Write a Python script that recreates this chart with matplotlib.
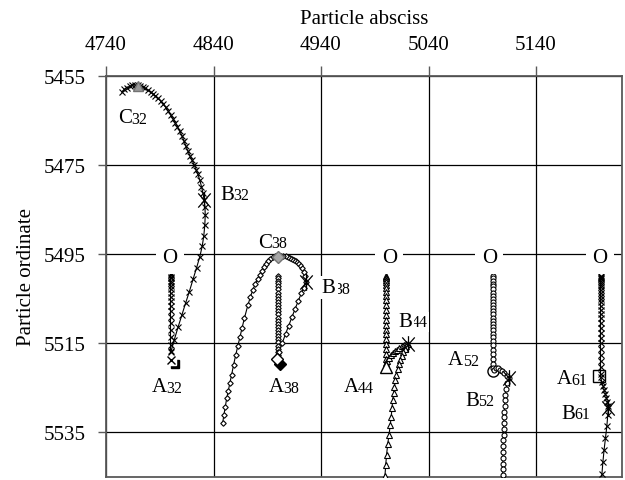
import numpy as np
import matplotlib.pyplot as plt
from matplotlib.path import Path

plt.rcParams['font.family'] = ['Liberation Serif', 'DejaVu Serif']

# free fall of each particle below its origin O (constant abscissa)
p32_drop_x = 4800
p32_drop_y = [5499.5, 5499.7, 5500.0, 5500.4, 5500.9, 5501.5, 5502.1, 5502.8, 5503.6, 5504.5,
              5505.5, 5506.6, 5507.8, 5509.1, 5510.5, 5512.0, 5513.6, 5515.3, 5517.0]
p38_drop_x = 4900
p38_drop_y = [5499.8, 5500.3, 5500.9, 5501.5, 5502.2, 5502.9, 5503.6, 5504.3, 5505.0, 5505.7,
              5506.4, 5507.1, 5507.8, 5508.5, 5509.2, 5509.9, 5510.6, 5511.3, 5512.0, 5512.7,
              5513.4, 5514.1, 5514.8, 5515.5, 5516.2, 5516.9, 5517.6]
p44_drop_x = 5000
p44_drop_y = [5499.8, 5500.1, 5500.4, 5500.8, 5501.3, 5501.9, 5502.6, 5503.4, 5504.3, 5505.3,
              5506.4, 5507.5, 5508.6, 5509.7, 5510.8, 5511.9, 5513.0, 5514.1, 5515.2, 5516.3,
              5517.4, 5518.5, 5519.5]
p52_drop_x = 5100
p52_drop_y = [5499.8, 5500.4, 5501.0, 5501.6, 5502.2, 5502.9, 5503.6, 5504.3, 5505.0, 5505.7,
              5506.4, 5507.1, 5507.8, 5508.5, 5509.2, 5509.9, 5510.6, 5511.3, 5512.0, 5512.8,
              5513.6, 5514.5, 5515.4, 5516.4, 5517.4, 5518.5, 5519.6, 5520.6]
p61_drop_x = 5200
p61_drop_y = [5499.8, 5500.0, 5500.3, 5500.6, 5501.0, 5501.4, 5501.9, 5502.4, 5503.0, 5503.6,
              5504.3, 5505.0, 5505.8, 5506.6, 5507.5, 5508.4, 5509.4, 5510.4, 5511.5, 5512.6,
              5513.8, 5515.0, 5516.3, 5517.6, 5519.0, 5520.4, 5521.8]

# flight after the turning point A
p32_x = [4800.5, 4803.5, 4807.0, 4810.5, 4814.0, 4817.5, 4821.0, 4824.3, 4827.2, 4829.5,
         4831.0, 4831.9, 4832.3, 4832.1, 4831.4, 4830.2, 4828.8, 4827.3, 4825.6, 4823.8,
         4822.0, 4820.1, 4818.1, 4816.3, 4814.4, 4812.6, 4810.7, 4808.6, 4806.5, 4804.4,
         4802.3, 4800.0, 4797.7, 4795.4, 4793.0, 4790.7, 4788.4, 4786.0, 4783.7, 4781.4,
         4779.1, 4776.7, 4774.4, 4772.0, 4769.5, 4767.0, 4764.5, 4762.0, 4759.5, 4757.0,
         4755.0]
p32_y = [5516.8, 5514.2, 5511.4, 5508.7, 5506.0, 5503.4, 5500.6, 5498.0, 5495.6, 5493.2,
         5490.8, 5488.5, 5486.3, 5484.5, 5482.9, 5481.3, 5479.8, 5478.4, 5477.1, 5476.0,
         5474.9, 5473.9, 5472.9, 5471.9, 5470.8, 5469.6, 5468.4, 5467.4, 5466.4, 5465.5,
         5464.6, 5463.7, 5462.8, 5462.0, 5461.3, 5460.6, 5460.0, 5459.5, 5459.0, 5458.6,
         5458.2, 5457.8, 5457.5, 5457.3, 5457.1, 5457.0, 5457.1, 5457.3, 5457.6, 5458.0,
         5458.5]
p38_x = [4901.0, 4904.0, 4907.0, 4910.0, 4913.0, 4916.0, 4919.0, 4921.6, 4924.0, 4926.0,
         4925.0, 4923.8, 4922.3, 4920.6, 4918.8, 4916.9, 4915.0, 4913.0, 4911.0, 4909.0,
         4907.0, 4905.0, 4903.0, 4901.0, 4899.0, 4897.0, 4895.0, 4893.0, 4891.0, 4889.0,
         4887.0, 4885.0, 4883.0, 4881.0, 4878.8, 4876.6, 4874.3, 4871.9, 4868.8, 4866.6,
         4864.6, 4862.6, 4860.6, 4858.7, 4856.9, 4855.3, 4853.8, 4852.3, 4851.0, 4849.7,
         4848.5]
p38_y = [5516.9, 5514.9, 5512.9, 5511.0, 5509.1, 5507.2, 5505.4, 5503.8, 5502.5, 5501.3,
         5499.9, 5498.9, 5498.1, 5497.5, 5497.0, 5496.6, 5496.3, 5496.0, 5495.8, 5495.6,
         5495.5, 5495.4, 5495.3, 5495.3, 5495.3, 5495.4, 5495.7, 5496.1, 5496.6, 5497.2,
         5497.9, 5498.7, 5499.6, 5500.5, 5501.7, 5503.0, 5504.6, 5506.5, 5509.3, 5511.5,
         5513.6, 5515.6, 5517.7, 5519.8, 5522.0, 5523.8, 5525.6, 5527.3, 5529.2, 5531.0,
         5532.9]
p44_x = [5000.5, 5001.8, 5003.5, 5005.4, 5007.3, 5009.2, 5011.0, 5013.0, 5015.1, 5017.1,
         5019.1, 5020.6, 5019.2, 5017.8, 5016.4, 5015.0, 5013.7, 5012.5, 5011.3, 5010.2,
         5009.2, 5008.3, 5007.5, 5006.7, 5006.0, 5005.3, 5004.4, 5003.3, 5002.0, 5001.0,
         5000.2, 4999.5, 4998.9]
p44_y = [5520.0, 5519.0, 5518.3, 5517.7, 5517.2, 5516.8, 5516.4, 5516.0, 5515.7, 5515.4,
         5515.2, 5515.1, 5515.6, 5516.2, 5517.0, 5517.8, 5518.7, 5519.7, 5520.8, 5522.0,
         5523.3, 5524.7, 5526.2, 5527.8, 5529.6, 5531.5, 5533.3, 5535.5, 5537.7, 5540.0,
         5542.3, 5544.7, 5547.0]
p52_x = [5100.8, 5102.5, 5104.5, 5106.5, 5108.6, 5110.5, 5112.7, 5115.3, 5113.0, 5112.2,
         5111.6, 5111.2, 5110.9, 5110.6, 5110.4, 5110.2, 5110.1, 5109.9, 5109.7, 5109.5,
         5109.4, 5109.3, 5109.2, 5109.1, 5109.0, 5108.9]
p52_y = [5521.0, 5520.5, 5520.6, 5520.9, 5521.2, 5521.6, 5522.4, 5522.8, 5524.0, 5525.2,
         5526.5, 5527.8, 5529.0, 5530.3, 5531.6, 5532.9, 5534.2, 5535.5, 5536.8, 5538.1,
         5539.4, 5540.7, 5542.0, 5543.3, 5544.6, 5545.9]
p61_x = [5200.2, 5201.2, 5202.3, 5203.4, 5204.5, 5205.5, 5206.4, 5207.0, 5207.3, 5206.8,
         5205.9, 5204.6, 5203.3, 5202.2, 5201.3, 5200.7]
p61_y = [5522.6, 5523.6, 5524.5, 5525.4, 5526.3, 5527.2, 5528.1, 5529.0, 5529.6, 5531.0,
         5533.6, 5536.3, 5539.0, 5541.7, 5544.4, 5547.0]

# characteristic points
origin_x = [4799.5, 5003.5, 5096.5, 5199.5]
origin_y = 5495.8
a_x = [4800.5, 4898.8, 5000.0, 5100.0, 5199.0]
a_y = [5518.8, 5518.6, 5520.2, 5521.3, 5522.3]
b_x = [4831.4, 4926.0, 5020.6, 5115.3, 5207.3]
b_y = [5482.9, 5501.3, 5515.1, 5522.8, 5529.6]
c_x = [4770.0, 4900.3]
c_y = [5457.3, 5495.6]

x_ticks = [4740, 4840, 4940, 5040, 5140]
y_ticks = [5455, 5475, 5495, 5515, 5535]

# asterisk used for the B points: X with a vertical bar
star = Path([(0, -1), (0, 1), (-0.75, -0.85), (0.75, 0.85), (-0.75, 0.85), (0.75, -0.85)],
            [Path.MOVETO, Path.LINETO] * 3)


def tag(axes, x, y, letter, num, boxed=False):
    """Writes a point name with a smaller index next to it"""
    box = dict(boxstyle='square,pad=0.1', fc='white', ec='none') if boxed else None
    t = axes.text(x, y, letter, fontsize=15, ha='left', va='baseline', bbox=box, zorder=6)
    # index drawn under the letter so its box never hides the letter
    axes.annotate(num, xy=(1, 0), xycoords=t, xytext=(-0.6, 3.2), textcoords='offset points',
                  fontsize=11.5, ha='left', va='baseline', bbox=box, zorder=5.9)


def trajectory(axes, drop_x, drop_y, path_x, path_y, **style):
    """Fall from O followed by the flight after A, as one line"""
    xs = np.concatenate([np.full(len(drop_y), drop_x), path_x])
    ys = np.concatenate([drop_y, path_y])
    axes.plot(xs, ys, color='black', lw=0.8, zorder=3, **style)


fig = plt.figure(figsize=(6.25, 4.81), dpi=100)
ax = fig.add_axes([0.1696, 0.0062, 0.8256, 0.8337])

trajectory(ax, p32_drop_x, p32_drop_y, p32_x, p32_y, marker='x', ms=3.8, mew=0.8)
trajectory(ax, p38_drop_x, p38_drop_y, p38_x, p38_y, marker='D', ms=2.8, mew=0.8, mfc='white')
trajectory(ax, p44_drop_x, p44_drop_y, p44_x, p44_y, marker='^', ms=3.8, mew=0.8, mfc='white')
trajectory(ax, p52_drop_x, p52_drop_y, p52_x, p52_y, marker='o', ms=3.6, mew=0.8, mfc='white')
trajectory(ax, p61_drop_x, p61_drop_y, p61_x, p61_y, marker='x', ms=3.8, mew=0.8)

# A points (32 and 38 carry a dark shadow)
ax.plot(a_x[0] + 3.5, a_y[0] + 0.9, marker='s', ms=5.5, color='black', ls='none', zorder=4)
ax.plot(a_x[0] + 1.2, a_y[0] + 0.2, marker='s', ms=5.5, mfc='white', mec='white', ls='none', zorder=4)
ax.plot(a_x[0], a_y[0], marker='x', ms=6, mew=1, color='black', ls='none', zorder=5)
ax.plot(a_x[1] + 3.0, a_y[1] + 1.1, marker='D', ms=6.5, color='black', ls='none', zorder=4)
ax.plot(a_x[1], a_y[1], marker='D', ms=6.5, mfc='white', mec='black', mew=1, ls='none', zorder=5)
ax.plot(a_x[2], a_y[2], marker='^', ms=9, mfc='white', mec='black', mew=1, ls='none', zorder=5)
ax.plot(a_x[3], a_y[3], marker='o', ms=8, mfc='white', mec='black', mew=1, ls='none', zorder=2)
ax.plot(a_x[4], a_y[4], marker='s', ms=9, mfc='white', mec='black', mew=1, ls='none', zorder=2)

# B points
ax.plot(b_x, b_y, marker=star, ms=12, mew=0.9, color='black', ls='none', zorder=5)

# C points (grey)
ax.plot(c_x[0], c_y[0], marker='^', ms=7, mfc='0.6', mec='0.45', ls='none', zorder=5)
ax.plot(c_x[1], c_y[1], marker='D', ms=6.5, mfc='0.65', mec='0.45', ls='none', zorder=5)

# origins
for ox in origin_x:
    ax.text(ox, origin_y, 'O', fontsize=15, ha='center', va='center', zorder=6,
            bbox=dict(boxstyle='square,pad=0.3', fc='white', ec='none'))

tag(ax, 4751.2, 5465.4, 'C', '32')
tag(ax, 4846.7, 5482.5, 'B', '32')
tag(ax, 4782.5, 5525.8, 'A', '32')
tag(ax, 4881.7, 5493.3, 'C', '38')
tag(ax, 4940.6, 5503.5, 'B', '38', boxed=True)
tag(ax, 4891.9, 5525.8, 'A', '38')
tag(ax, 5011.9, 5511.0, 'B', '44', boxed=True)
tag(ax, 4960.8, 5525.8, 'A', '44')
tag(ax, 5058.4, 5519.7, 'A', '52')
tag(ax, 5074.0, 5528.8, 'B', '52')
tag(ax, 5159.3, 5523.9, 'A', '61')
tag(ax, 5164.0, 5531.7, 'B', '61')

ax.set_xlim(4740, 5220)
ax.set_ylim(5545, 5455)
ax.set_xticks(x_ticks)
ax.set_yticks(y_ticks)
ax.xaxis.tick_top()
ax.xaxis.set_label_position('top')
ax.tick_params(axis='x', length=7, width=1, pad=9, color='0.35', labelsize=15)
ax.tick_params(axis='y', length=6, width=1, pad=8.5, color='0.35', labelsize=15)
ax.grid(True, color='black', lw=0.9)
ax.set_axisbelow(True)
for side in ax.spines.values():
    side.set_color('0.35')
    side.set_linewidth(1.3)

ax.set_xlabel('Particle absciss', fontsize=15)
ax.xaxis.set_label_coords(0.5, 1.131)
fig.text(0.043, 1 - 277 / 481, 'Particle ordinate', fontsize=15, rotation=90,
         ha='center', va='center')

plt.savefig('out.png', dpi=100)
